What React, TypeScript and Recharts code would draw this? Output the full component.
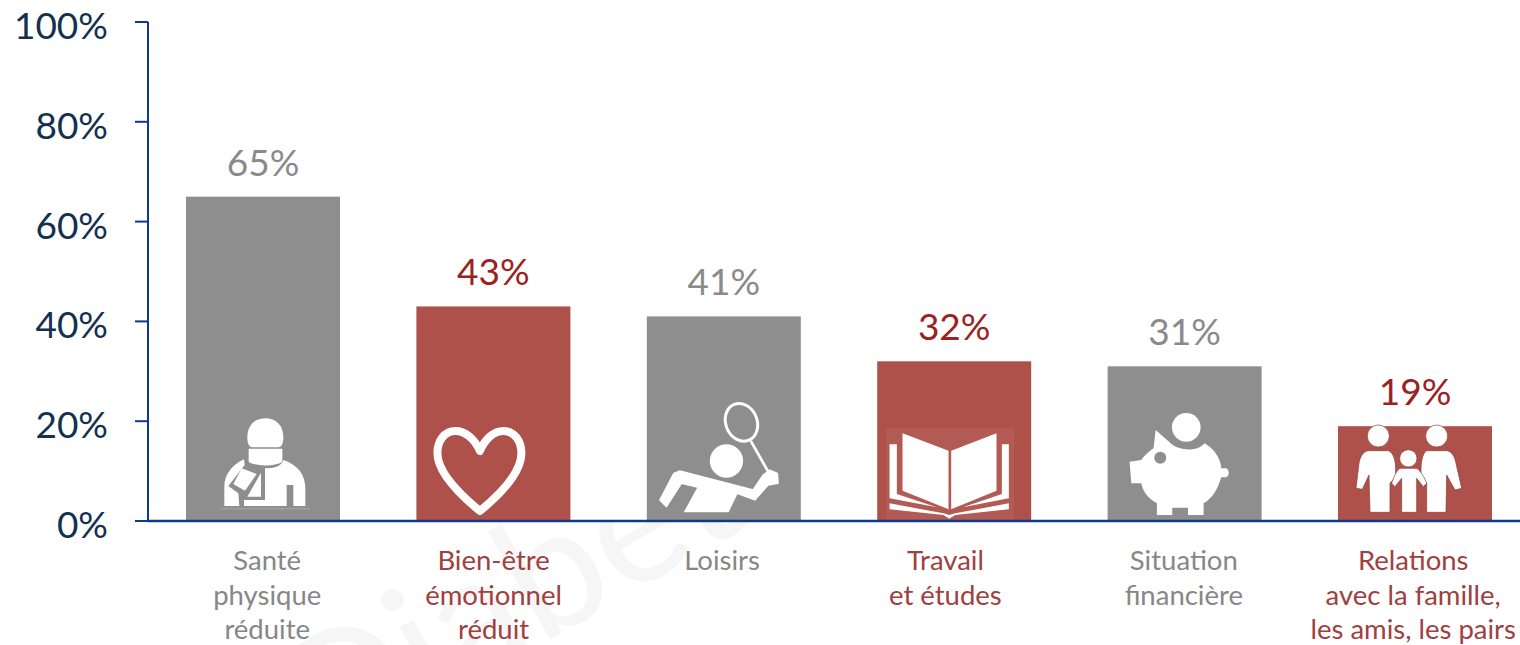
import { BarChart, Bar, XAxis, YAxis, LabelList, ReferenceLine } from 'recharts'

const categories = ['Santé\nphysique\nréduite', 'Bien-être\némotionnel\nréduit', 'Loisirs', 'Travail\net études', 'Situation\nfinancière', 'Relations\navec la famille,\nles amis, les pairs']
const shares = [65, 43, 41, 32, 31, 19]
const highlighted = [false, true, false, true, false, true]
const yTicks = [0, 20, 40, 60, 80, 100]

const chartData = categories.map((category, i) => ({ category, share: shares[i], highlighted: highlighted[i] }))

const FONT = 'Lato, Carlito, sans-serif'
const BAR_GREY = '#8e8e8e'
const BAR_RED = '#ae514a'
const AXIS_BLUE = '#0f3a8c'
const TICK_NAVY = '#14304f'

// small horizontal nudges, the source labels are not quite centred
const labelNudge = [4, 0, -2, -9, -1, -2]

function SickIcon() {
  return (
    <g transform="translate(14 -121) scale(0.3333)" fill="#fff">
      <path d="M142 112C142 75 165 55 196 55C227 55 250 75 250 112C250 130 245 142 235 142L157 142C147 142 142 130 142 112Z" />
      <path d="M146 146L247 146L247 185C225 200 165 200 146 185Z" />
      <path d="M132 178L134 195L85 258L115 280L118 318L73 318L73 260C73 225 95 195 132 178Z" />
      <path d="M125 205L170 222L135 272L100 252Z" />
      <path d="M183 218L183 290L142 290Z" />
      <path d="M250 180C295 195 316 225 316 265L316 318L280 318L280 255L260 255L260 318L132 318L132 300L195 300L195 205C220 205 245 200 250 180Z" />
      <rect x={60} y={325} width={270} height={3} fill="#a8a8a8" />
    </g>
  )
}

function HeartIcon() {
  return (
    <g transform="translate(-416 -521)">
      <path
        d="M479.5 451C474 438 464 431 455 431C444 431 437 441 437 453C437 473 460 495 479.5 511C499 495 521 473 521 453C521 441 514 431 503 431C494 431 485 438 479.5 451Z"
        fill="none"
        stroke="#fff"
        strokeWidth={8}
        strokeLinejoin="round"
      />
    </g>
  )
}

function BadmintonIcon() {
  return (
    <g transform="translate(3 -126) scale(0.3333)">
      <ellipse cx={275} cy={82} rx={47} ry={58} transform="rotate(-22 275 82)" fill="none" stroke="#fff" strokeWidth={9} />
      <line x1={303} y1={138} x2={358} y2={235} stroke="#fff" strokeWidth={8} />
      <circle cx={230} cy={198} r={50} fill="#fff" />
      <path
        d="M72 235L30 315L50 335L95 265L145 277L105 350L235 350L262 295L315 315L355 270L385 265L383 235L360 225L340 240L310 285L90 228Z"
        fill="#fff"
        stroke="#fff"
        strokeWidth={4}
        strokeLinejoin="round"
      />
    </g>
  )
}

function BookIcon() {
  return (
    <g transform="translate(3 -101) scale(0.3333)">
      <rect x={18} y={22} width={384} height={284} fill="#b25a54" />
      <g fill="#fff">
        <path d="M67 40L205 92L205 268L67 212Z" />
        <path d="M213 92L349 40L349 212L213 268Z" />
        <path d="M28 73L50 73L50 222L170 262L28 235Z" />
        <path d="M365 73L386 73L386 235L248 262L365 222Z" />
        <path d="M28 250L190 280L207 285L225 280L386 250L386 268L225 285L207 296L190 285L28 268Z" />
      </g>
    </g>
  )
}

function PiggyIcon() {
  return (
    <g transform="translate(12 -116) scale(0.3333)" fill="#fff">
      <circle cx={200} cy={67} r={43} />
      <path d="M108 75L150 112C170 135 230 145 255 115C290 135 305 170 305 190L320 190C330 195 330 212 320 217L305 217C295 250 280 280 252 295L252 330L205 330L205 308L158 308L158 330L112 330L112 295C85 280 70 260 65 235L35 235L30 170L65 165C75 150 95 135 102 130Z" />
      <circle cx={122} cy={158} r={18} fill={BAR_GREY} />
    </g>
  )
}

function FamilyIcon() {
  return (
    <g transform="translate(7 -101) scale(0.3333)" fill="#fff" stroke="#8a3a36" strokeWidth={2}>
      <circle cx={100} cy={48} r={33} />
      <circle cx={275} cy={48} r={33} />
      <circle cx={190} cy={115} r={26} />
      <path d="M70 92L130 92C145 97 152 120 152 150L152 170L135 190L135 277L75 277L72 165L52 208L33 205L42 130C45 110 55 94 70 92Z" />
      <path d="M245 92L305 92C320 94 330 110 333 130L350 205L330 210L305 165L303 277L245 277L245 190L228 170L228 150C228 120 235 97 245 92Z" />
      <path d="M165 145L215 145C225 150 240 175 245 190L235 200L215 175L215 277L170 277L170 175L150 200L140 190C145 175 155 150 165 145Z" />
    </g>
  )
}

const icons = [SickIcon, HeartIcon, BadmintonIcon, BookIcon, PiggyIcon, FamilyIcon]

function IconBar(props: any) {
  const { x, y, width, height, index } = props
  const Icon = icons[index]
  return (
    <g>
      <rect x={x} y={y} width={width} height={height} fill={highlighted[index] ? BAR_RED : BAR_GREY} />
      <g transform={`translate(${x} ${y + height})`}>
        <Icon />
      </g>
    </g>
  )
}

function ValueLabel(props: any) {
  const { x, y, width, value, index } = props
  return (
    <text x={x + width / 2} y={y - 21} textAnchor="middle" fontFamily={FONT} fontSize={37} fill={highlighted[index] ? '#9b2222' : '#8a8a8a'}>
      {value}%
    </text>
  )
}

function CategoryTick(props: any) {
  const { x, y, payload, index } = props
  const lines = String(payload.value).split('\n')
  return (
    <text textAnchor="middle" fontFamily={FONT} fontSize={27.5} fill={highlighted[index] ? '#a04040' : '#878787'}>
      {lines.map((line, i) => (
        <tspan key={i} x={x + labelNudge[index]} y={y + 41 + i * 34.5}>
          {line}
        </tspan>
      ))}
    </text>
  )
}

function PercentTick(props: any) {
  const { x, y, payload } = props
  return (
    <text x={x - 13} y={y + 17} textAnchor="end" fontFamily={FONT} fontSize={37} fill={TICK_NAVY}>
      {payload.value}%
    </text>
  )
}

export default function App() {
  return (
    <div style={{ position: 'absolute', left: 0, top: 0, width: 1520, height: 645, overflow: 'hidden', background: '#fff' }}>
      <svg width={1520} height={645} style={{ position: 'absolute', left: 0, top: 0 }}>
        <defs>
          <clipPath id="below-axis">
            <rect x={0} y={522} width={1520} height={123} />
          </clipPath>
        </defs>
        <g clipPath="url(#below-axis)">
          <text x={321} y={772} transform="rotate(-30 321 772)" fontFamily={FONT} fontSize={170} fill="#f6f6f6">
            Diabète
          </text>
        </g>
      </svg>
      <div style={{ position: 'absolute', left: 0, top: 0 }}>
        <BarChart width={1540} height={645} data={chartData} margin={{ top: 22, right: 9.6, bottom: 0, left: 0 }} barSize={154}>
          <XAxis
            dataKey="category"
            height={124}
            interval={0}
            tickLine={false}
            axisLine={{ stroke: AXIS_BLUE, strokeWidth: 2 }}
            tick={CategoryTick}
          />
          <YAxis
            width={148}
            domain={[0, 100]}
            ticks={yTicks}
            tickSize={13}
            tickLine={{ stroke: AXIS_BLUE, strokeWidth: 2 }}
            axisLine={{ stroke: AXIS_BLUE, strokeWidth: 2 }}
            tickMargin={14}
            tick={PercentTick}
          />
          <Bar dataKey="share" isAnimationActive={false} shape={IconBar}>
            <LabelList dataKey="share" content={ValueLabel} />
          </Bar>
          <ReferenceLine y={0} stroke={AXIS_BLUE} strokeWidth={2.5} />
        </BarChart>
      </div>
    </div>
  )
}
